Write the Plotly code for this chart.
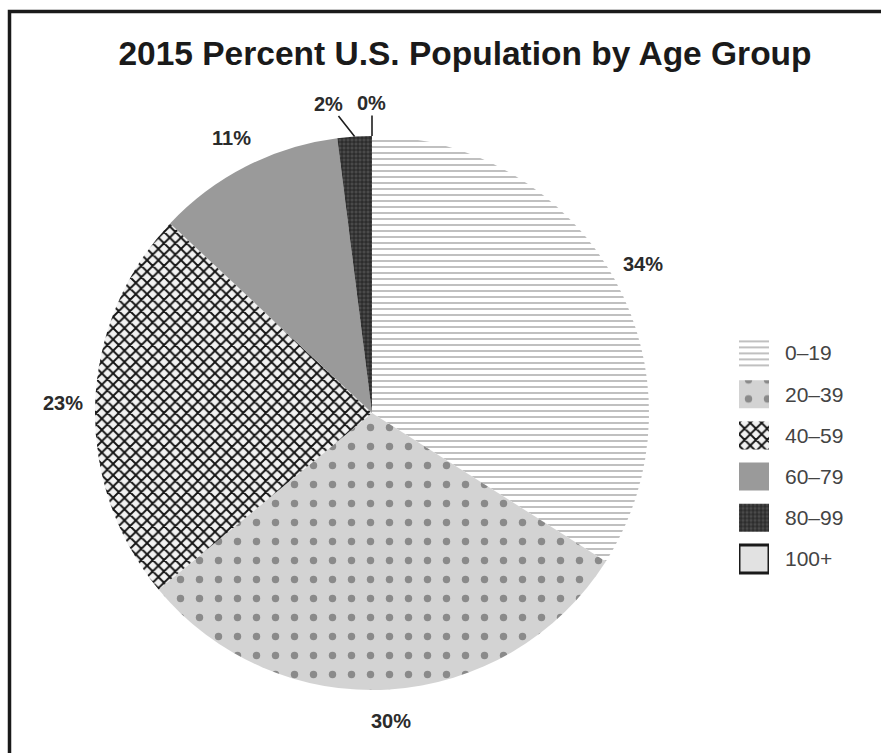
import math
import plotly.graph_objects as go

# --- data -------------------------------------------------------------
title_text = "2015 Percent U.S. Population by Age Group"
age_groups = ["0–19", "20–39", "40–59", "60–79", "80–99", "100+"]
percent = [34, 30, 23, 11, 2, 0]

# --- per-slice styling ------------------------------------------------
fill_colors = ["#ffffff", "#d3d3d3", "#f2f2f2", "#9a9a9a", "#4a4a4a", "#e2e2e2"]
pattern_shapes = ["-", ".", "x", "", "+", ""]
pattern_fg = ["#bdbdbd", "#8a8a8a", "#141414", "#9a9a9a", "#1c1c1c", "#e2e2e2"]
pattern_size = [6, 19, 8, 8, 4, 8]
pattern_solidity = [0.32, 0.12, 0.42, 0.3, 0.35, 0.3]
swatch_border = [0, 0, 0, 0, 0, 3]

# --- geometry (pixels) -------------------------------------------------
W, H = 881, 753
CX, CY, R = 372, 413, 277
LABEL_R = 1.115 * R
SMALL = 5            # slices below this share get a leader line
LEADER_RISE = 33
leader_dx = {4: -26, 5: 0}

BASE_FONT = "Liberation Sans, Arial, sans-serif"


def px(x):
    return x / W


def py(y):
    return 1 - y / H


fig = go.Figure()

fig.add_trace(go.Pie(
    labels=age_groups,
    values=percent,
    sort=False,
    direction="clockwise",
    rotation=0,
    textinfo="none",
    hoverinfo="label+percent",
    showlegend=False,
    marker=dict(
        colors=fill_colors,
        line=dict(width=0),
        pattern=dict(
            shape=pattern_shapes,
            fgcolor=pattern_fg,
            bgcolor=fill_colors,
            size=pattern_size,
            solidity=pattern_solidity,
            fillmode="replace",
        ),
    ),
    domain=dict(x=[px(CX - R), px(CX + R)], y=[py(CY + R), py(CY - R)]),
))

# Legend: one square swatch per age group, stacked in a small side axis
for i, name in enumerate(age_groups):
    fig.add_trace(go.Bar(
        y=[name],
        x=[1],
        orientation="h",
        width=0.68,
        showlegend=False,
        hoverinfo="skip",
        marker=dict(
            color=fill_colors[i],
            line=dict(color="#1a1a1a", width=swatch_border[i]),
            pattern=dict(
                shape=pattern_shapes[i],
                fgcolor=pattern_fg[i],
                bgcolor=fill_colors[i],
                size=pattern_size[i],
                solidity=pattern_solidity[i],
                fillmode="replace",
            ),
        ),
        xaxis="x",
        yaxis="y",
    ))

# Percentage labels around the pie
label_font = dict(size=20, color="#2b2b2b", family=BASE_FONT)
annotations = []
total = sum(percent)
start = 0.0
for i, v in enumerate(percent):
    span = 360.0 * v / total
    mid = math.radians(start + span / 2)
    start += span
    text = f"<b>{v}%</b>"
    if v >= SMALL:
        lx = CX + LABEL_R * math.sin(mid)
        ly = CY - LABEL_R * math.cos(mid)
        annotations.append(dict(
            x=px(lx), y=py(ly), xref="paper", yref="paper",
            xanchor="center", yanchor="middle",
            text=text, showarrow=False, font=label_font,
        ))
    else:
        ex = CX + R * math.sin(mid)
        ey = CY - R * math.cos(mid)
        annotations.append(dict(
            x=px(ex), y=py(ey), xref="paper", yref="paper",
            text=text, showarrow=True, arrowhead=0, arrowwidth=1.6,
            arrowcolor="#1e1e1e", standoff=0,
            ax=leader_dx.get(i, 0), ay=-LEADER_RISE,
            font=label_font,
        ))

span_h = 41.2 * len(age_groups)
leg_center = 456
fig.update_layout(
    width=W, height=H,
    margin=dict(l=0, r=0, t=0, b=0),
    paper_bgcolor="white",
    plot_bgcolor="white",
    barmode="overlay",
    title=dict(
        text=title_text,
        x=px(465), xanchor="center",
        y=py(53), yanchor="middle",
        font=dict(size=33.5, color="#1a1a1a", family=BASE_FONT, weight="bold"),
    ),
    xaxis=dict(domain=[px(739), px(769)], range=[0, 1], visible=False, fixedrange=True),
    yaxis=dict(
        domain=[py(leg_center + span_h / 2), py(leg_center - span_h / 2)],
        categoryorder="array", categoryarray=age_groups,
        autorange="reversed",
        side="right",
        anchor="x",
        showgrid=False, showline=False, zeroline=False,
        ticks="", ticklabelstandoff=15,
        tickfont=dict(size=21, color="#444444", family=BASE_FONT),
        fixedrange=True,
    ),
    annotations=annotations,
    shapes=[dict(
        type="path", xref="paper", yref="paper",
        path=f"M {px(9.5)},0 L {px(9.5)},{py(11.5)} L 1,{py(11.5)}",
        line=dict(color="#1a1a1a", width=3.5),
    )],
)

fig.write_html("out.html")
